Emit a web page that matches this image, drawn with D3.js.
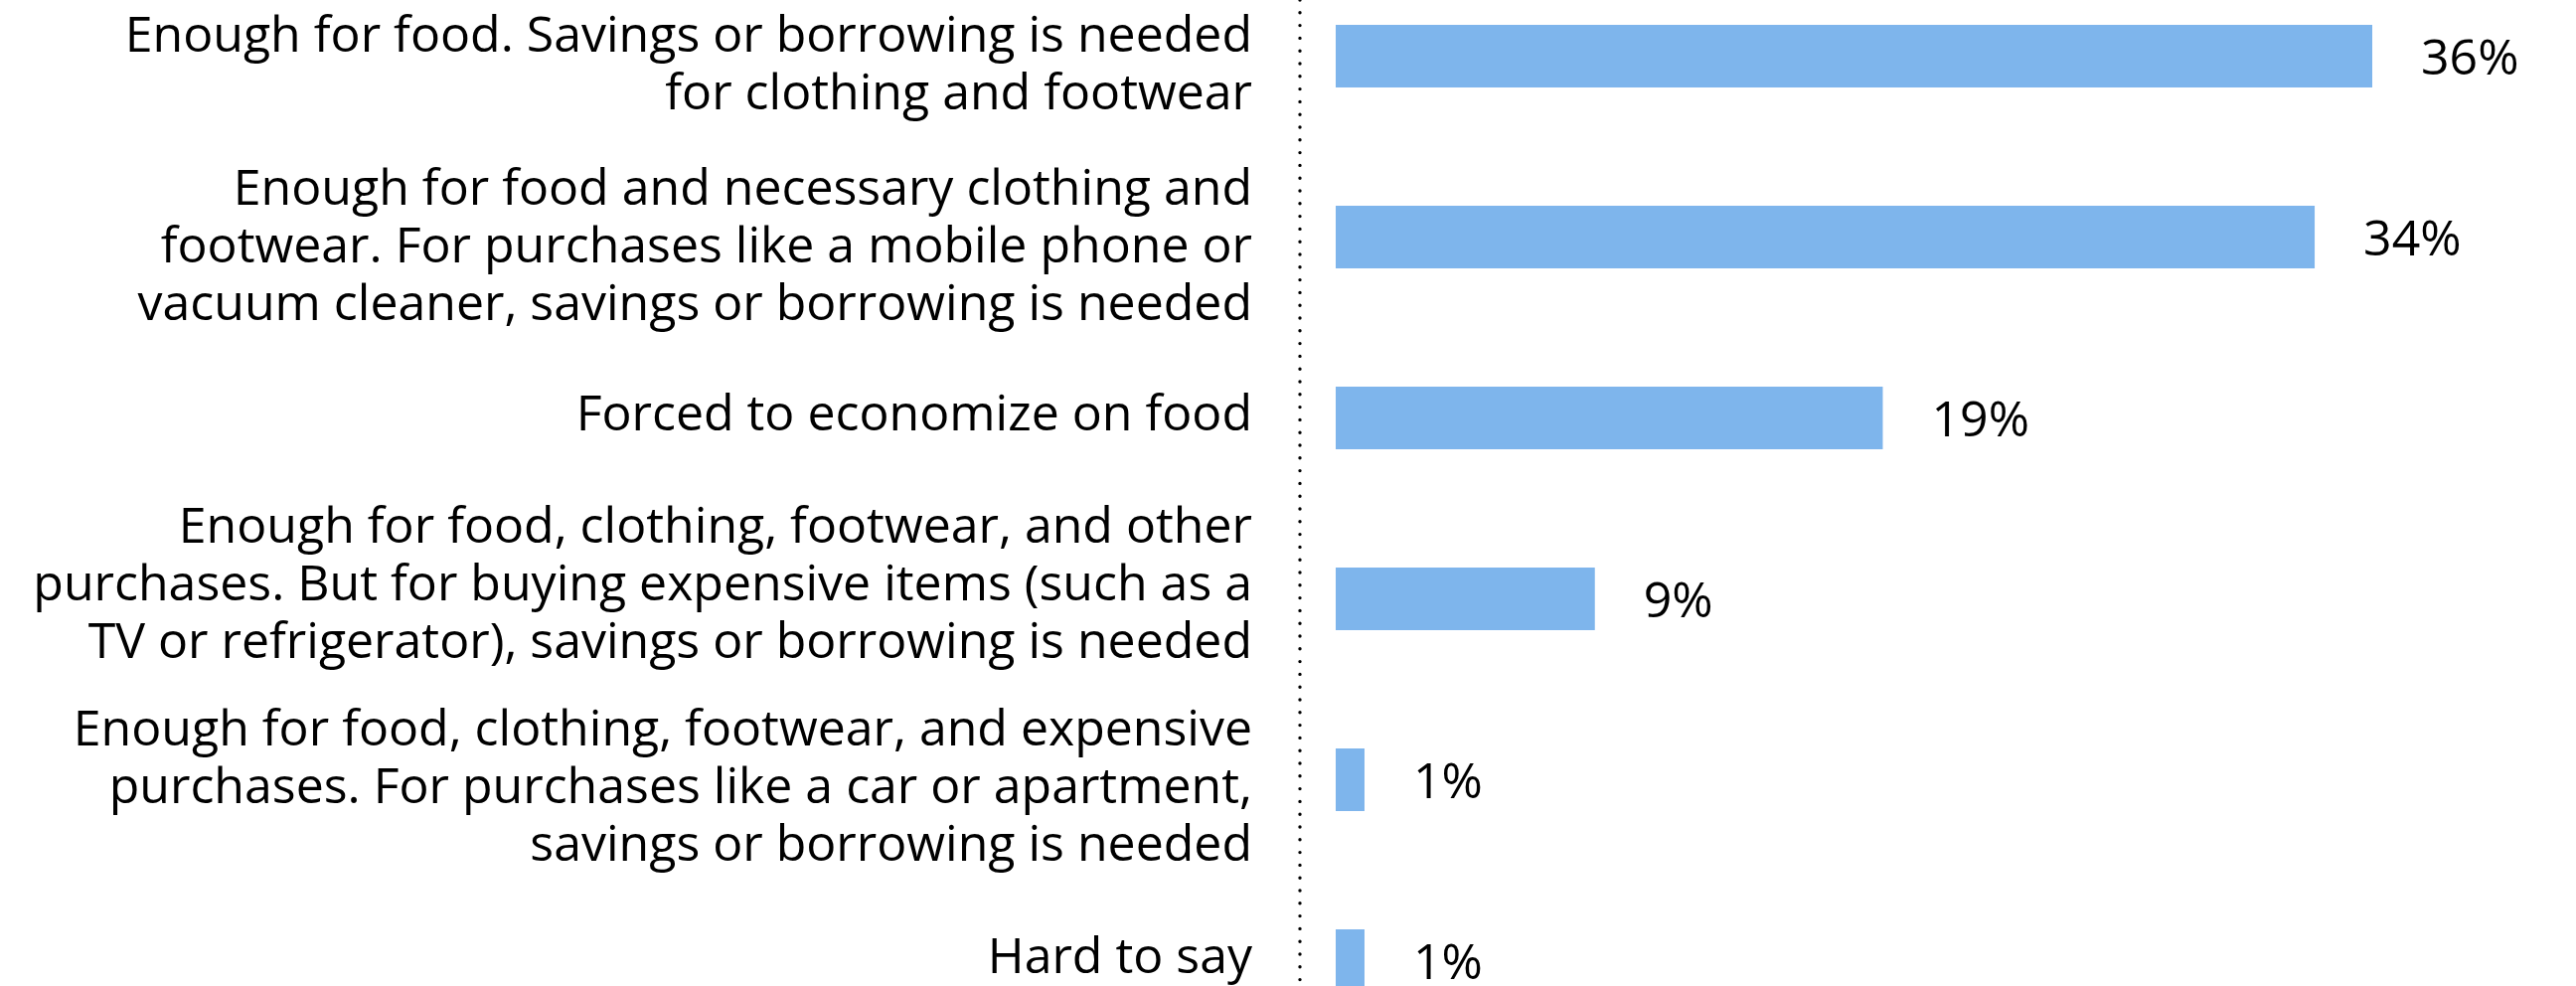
<!DOCTYPE html>
<html><head><meta charset="utf-8">
<script src="https://cdn.jsdelivr.net/npm/d3@7"></script>
<style>
  body { margin: 0; background: #fff; }
  text { font-family: "Open Sans", "Noto Sans", sans-serif; fill: #000; }
</style>
</head><body>
<svg id="chart" width="2592" height="992"></svg>
<script>
// Answer categories (each entry is one line of the wrapped label)
const categories = [
  ["Enough for food. Savings or borrowing is needed", "for clothing and footwear"],
  ["Enough for food and necessary clothing and", "footwear. For purchases like a mobile phone or", "vacuum cleaner, savings or borrowing is needed"],
  ["Forced to economize on food"],
  ["Enough for food, clothing, footwear, and other", "purchases. But for buying expensive items (such as a", "TV or refrigerator), savings or borrowing is needed"],
  ["Enough for food, clothing, footwear, and expensive", "purchases. For purchases like a car or apartment,", "savings or borrowing is needed"],
  ["Hard to say"]
];
// Share of respondents, percent
const values = [36, 34, 19, 9, 1, 1];

const H = 992;
const keys = categories.map((c, i) => i);

// vertical nudge of each category label block, px
const labelNudge = [12, 13, 0, -11, 11, 0];

const svg = d3.select("#chart");

const step = 182;
const y = d3.scaleBand()
  .domain(keys)
  .range([-34.5, -34.5 + step * keys.length])
  .paddingInner(0.654)
  .paddingOuter(0.327);

const x = d3.scaleLinear()
  .domain([0, 36])
  .range([1344, 2387]);

// dotted baseline axis
svg.append("line")
  .attr("x1", 1308).attr("x2", 1308)
  .attr("y1", 0).attr("y2", H)
  .attr("stroke", "#000")
  .attr("stroke-width", 3.4)
  .attr("stroke-linecap", "round")
  .attr("stroke-dasharray", "0 12.8");

// bars
svg.append("g").selectAll("rect")
  .data(values)
  .join("rect")
  .attr("x", x(0))
  .attr("y", (d, i) => y(i))
  .attr("width", d => x(d) - x(0))
  .attr("height", y.bandwidth())
  .attr("fill", "#7eb5ec");

// value labels
svg.append("g").selectAll("text")
  .data(values)
  .join("text")
  .attr("x", d => x(d) + 49)
  .attr("y", (d, i) => y(i) + y.bandwidth() / 2)
  .attr("dy", "0.36em")
  .attr("font-size", 50)
  .text(d => d + "%");

// category labels, right aligned, wrapped lines centred on each bar
const lineH = 58;
const labX = 1260;
const lab = svg.append("g").selectAll("text")
  .data(categories)
  .join("text")
  .attr("text-anchor", "end")
  .attr("font-size", 50)
  .attr("x", labX)
  .attr("y", (d, i) => y(i) + y.bandwidth() / 2 + 12.5 + labelNudge[i]);

lab.each(function(lines) {
  const t = d3.select(this);
  const off = -(lines.length - 1) / 2 * lineH;
  lines.forEach((ln, j) => {
    t.append("tspan")
      .attr("x", labX)
      .attr("dy", j === 0 ? off : lineH)
      .text(ln);
  });
});
</script>
</body></html>
